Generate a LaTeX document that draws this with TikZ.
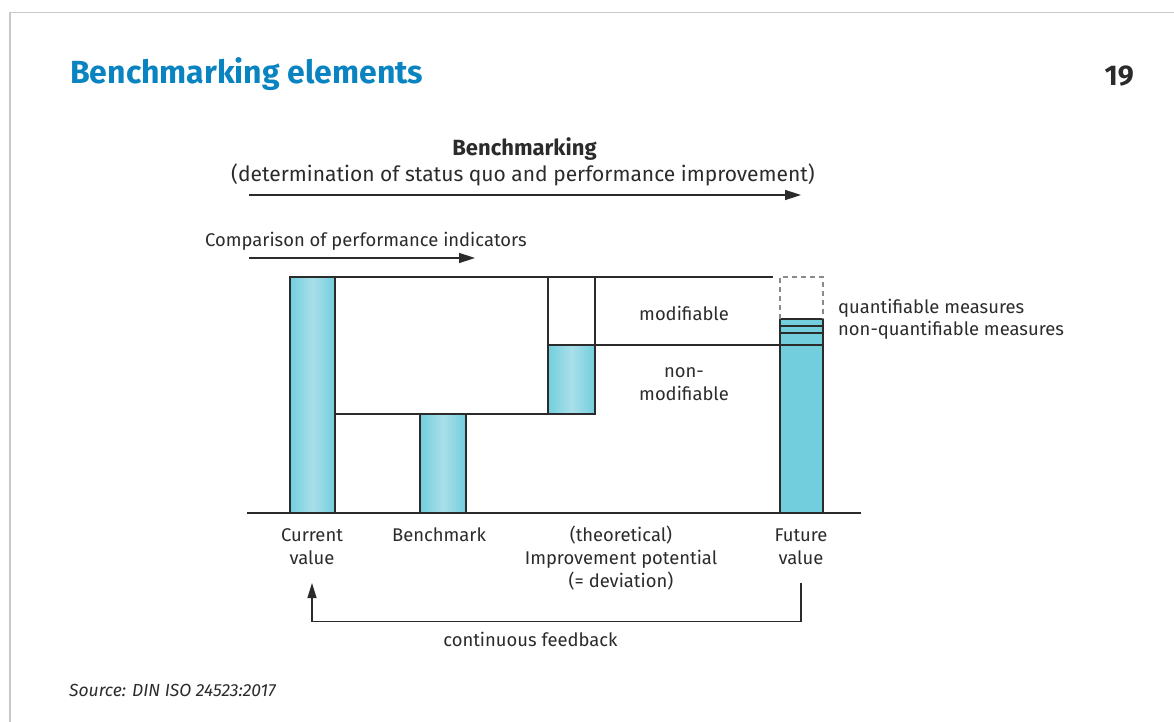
\documentclass[tikz,border=0pt]{standalone}
\usepackage{fontspec}
\setmainfont{Fira Sans}
\usetikzlibrary{arrows.meta}
\definecolor{titleblue}{HTML}{0A84C1}
\definecolor{barcyan}{HTML}{72CEDD}
\definecolor{barlight}{HTML}{AADFE9}
\definecolor{inkgray}{HTML}{2B2B2B}
\definecolor{framegray}{HTML}{C8C8C8}
\definecolor{dashgray}{HTML}{8A8A8A}

\begin{document}
\begin{tikzpicture}[x=1pt,y=1pt]
\tikzstyle{every node}+=[inner sep=0pt, text=inkgray, font=\fontsize{18.4}{23}\selectfont]
\tikzstyle{bar}=[draw=inkgray, line width=2pt, left color=barcyan, right color=barcyan, middle color=barlight]
\tikzstyle{edge}=[draw=inkgray, line width=2pt]
\tikzstyle{flow}=[draw=inkgray, line width=1.5pt, -{Triangle[length=16pt,width=10pt]}]
\tikzstyle{fb}=[draw=inkgray, line width=1.2pt, -{Triangle[length=15pt,width=9pt]}]
\tikzstyle{caption}=[align=center, anchor=base]
\useasboundingbox (0,0) rectangle (1174,-722);
\draw [framegray, line width=1.5pt] (10,-722) -- (10,-12.5) -- (1174,-12.5);
\node (title) [anchor=base west, text=titleblue, font=\fontsize{32}{34}\selectfont\bfseries] at (70,-84) {Benchmarking elements};
\node (page) [anchor=base east, font=\fontsize{28.5}{30}\selectfont\bfseries] at (1134,-86) {19};
\node (bmhead) [anchor=base, font=\fontsize{22}{25}\selectfont\bfseries] at (524.5,-156) {Benchmarking};
\node (bmsub) [anchor=base, font=\fontsize{21}{25}\selectfont] at (523,-182) {(determination of status quo and performance improvement)};
\coordinate (bmStart) at (249,-195);
\coordinate (bmEnd) at (801,-195);
\draw [flow] (bmStart) -- (bmEnd);
\node (cmp) [anchor=base west] at (205,-246.7) {Comparison of performance indicators};
\coordinate (cmpStart) at (249,-258);
\coordinate (cmpEnd) at (475,-258);
\draw [flow] (cmpStart) -- (cmpEnd);
\draw [bar] (290,-277) rectangle (335,-513);
\draw [edge] (335,-277) rectangle (548,-414);
\draw [bar] (420,-414) rectangle (466,-513);
\draw [edge, fill=white] (548,-277) rectangle (595,-345);
\draw [bar] (548,-345) rectangle (595,-414);
\draw [edge] (595,-277) -- (773,-277);
\draw [edge] (595,-345) -- (780,-345);
\draw [edge, fill=barcyan] (780,-319) rectangle (823,-513);
\draw [edge] (780,-326) -- (823,-326);
\draw [edge] (780,-333) -- (823,-333);
\draw [edge] (780,-345) -- (823,-345);
\draw [dashgray, line width=1.5pt, dash pattern=on 5pt off 4pt] (780,-319) -- (780,-277) -- (823,-277) -- (823,-319);
\draw [edge] (247,-513) -- (861,-513);
\node (mod) [anchor=base] at (684,-320) {modifiable};
\node (nonmod) [caption] at (684,-400) {non-\\modifiable};
\node (quant) [anchor=base west] at (838,-313.3) {quantifiable measures};
\node (nonquant) [anchor=base west] at (838,-335) {non-quantifiable measures};
\node (curlbl) [caption] at (312,-564.7) {Current\\value};
\node (bmlbl) [caption] at (439,-541.7) {Benchmark};
\node (potlbl) [caption] at (621,-587.7) {(theoretical)\\Improvement potential\\(= deviation)};
\node (futlbl) [caption] at (801,-564.7) {Future\\value};
\coordinate (fbFrom) at (801,-583);
\coordinate (fbTo) at (312,-583);
\draw [fb] (fbFrom) -- ++(0,-38.7) -| (fbTo);
\node (fblbl) [anchor=base] at (530.5,-646.7) {continuous feedback};
\node (src) [anchor=base west, font=\fontsize{17.5}{20}\selectfont\itshape] at (69,-696.7) {Source: DIN ISO 24523:2017};
\end{tikzpicture}
\end{document}
